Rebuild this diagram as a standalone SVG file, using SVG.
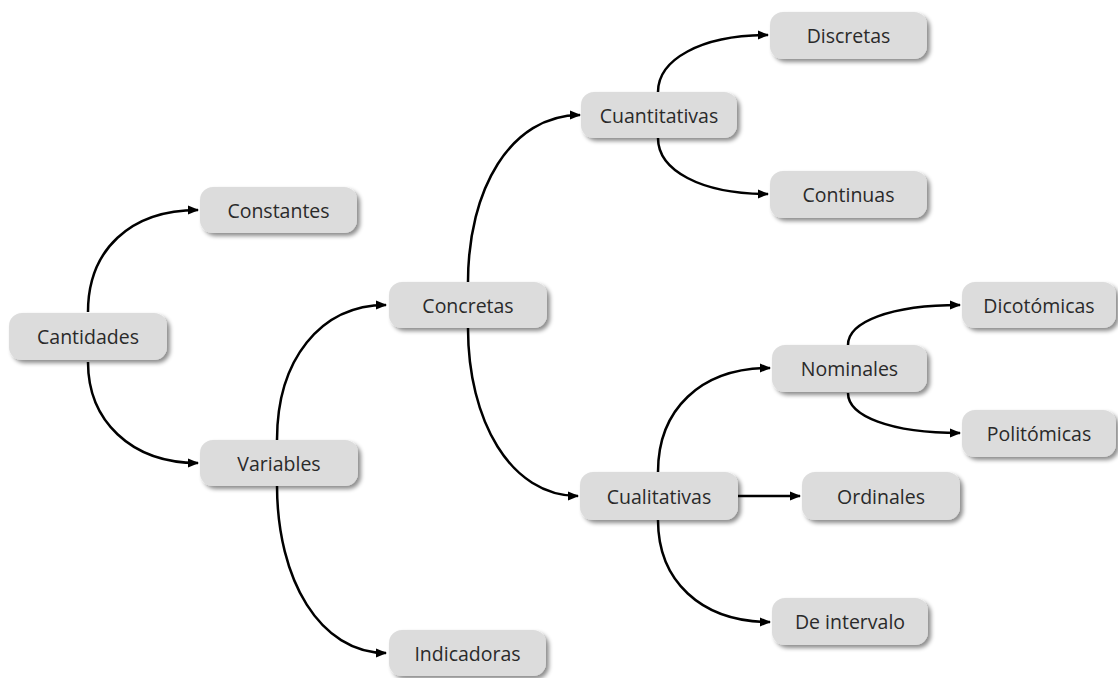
<svg xmlns="http://www.w3.org/2000/svg" width="1118" height="678" viewBox="0 0 1118 678">
<defs>
<filter id="sh" x="-10%" y="-20%" width="125%" height="160%">
<feDropShadow dx="3" dy="3" stdDeviation="2" flood-color="#000" flood-opacity="0.45"/>
</filter>
<marker id="ah" viewBox="0 0 10 10" refX="9" refY="5" markerWidth="4.5" markerHeight="4.5" orient="auto" markerUnits="strokeWidth">
<path d="M0,1 L10,5 L0,9 z" fill="#000"/>
</marker>
<style>
.n rect{fill:#dcdcdc;filter:url(#sh)}
.n text{font-family:"Open Sans","Noto Sans",sans-serif;font-size:19.5px;fill:#2a2a2a;text-anchor:middle;dominant-baseline:central}
.c path{fill:none;stroke:#000;stroke-width:2.5;marker-end:url(#ah)}
</style>
</defs>
<rect width="1118" height="678" fill="#fff"/>
<g class="c" id="connectors">
<path d="M88,312 C88,250 130,210 198,210"/>
<path d="M88,362 C88,420 130,463 198,463"/>
<path d="M277,440 C277,360 320,305 386,305"/>
<path d="M277,485 C277,580 320,653 386,653"/>
<path d="M468,282 C468,190 510,115 580,115"/>
<path d="M468,328 C468,420 510,496 578,496"/>
<path d="M658,92 C658,60 700,35 768,35"/>
<path d="M658,138 C658,170 700,194 768,194"/>
<path d="M658,472 C658,410 700,368 770,368"/>
<path d="M738,496 L800,496"/>
<path d="M658,520 C658,580 700,622 770,622"/>
<path d="M848,345 C848,322 890,305 960,305"/>
<path d="M848,393 C848,416 890,433 960,433"/>
</g>
<g class="n" id="cantidades"><rect x="9" y="313" width="158" height="47" rx="13"/><text x="88" y="336.5">Cantidades</text></g>
<g class="n" id="constantes"><rect x="200" y="187" width="157" height="46" rx="13"/><text x="278.5" y="210">Constantes</text></g>
<g class="n" id="variables"><rect x="200" y="440" width="158" height="46" rx="13"/><text x="279" y="463">Variables</text></g>
<g class="n" id="concretas"><rect x="389" y="282" width="158" height="46" rx="13"/><text x="468" y="305">Concretas</text></g>
<g class="n" id="indicadoras"><rect x="389" y="630" width="157" height="46" rx="13"/><text x="467.5" y="653">Indicadoras</text></g>
<g class="n" id="cuantitativas"><rect x="581" y="92" width="156" height="46" rx="13"/><text x="659" y="115">Cuantitativas</text></g>
<g class="n" id="cualitativas"><rect x="580" y="472" width="158" height="48" rx="13"/><text x="659" y="496">Cualitativas</text></g>
<g class="n" id="discretas"><rect x="770" y="12" width="157" height="47" rx="13"/><text x="848.5" y="35.5">Discretas</text></g>
<g class="n" id="continuas"><rect x="770" y="171" width="157" height="47" rx="13"/><text x="848.5" y="194.5">Continuas</text></g>
<g class="n" id="nominales"><rect x="772" y="345" width="155" height="47" rx="13"/><text x="849.5" y="368.5">Nominales</text></g>
<g class="n" id="ordinales"><rect x="802" y="472" width="158" height="48" rx="13"/><text x="881" y="496">Ordinales</text></g>
<g class="n" id="de-intervalo"><rect x="772" y="598" width="156" height="47" rx="13"/><text x="850" y="621.5">De intervalo</text></g>
<g class="n" id="dicotomicas"><rect x="962" y="282" width="154" height="46" rx="13"/><text x="1039" y="305">Dicotómicas</text></g>
<g class="n" id="politomicas"><rect x="962" y="410" width="154" height="47" rx="13"/><text x="1039" y="433.5">Politómicas</text></g>
</svg>
